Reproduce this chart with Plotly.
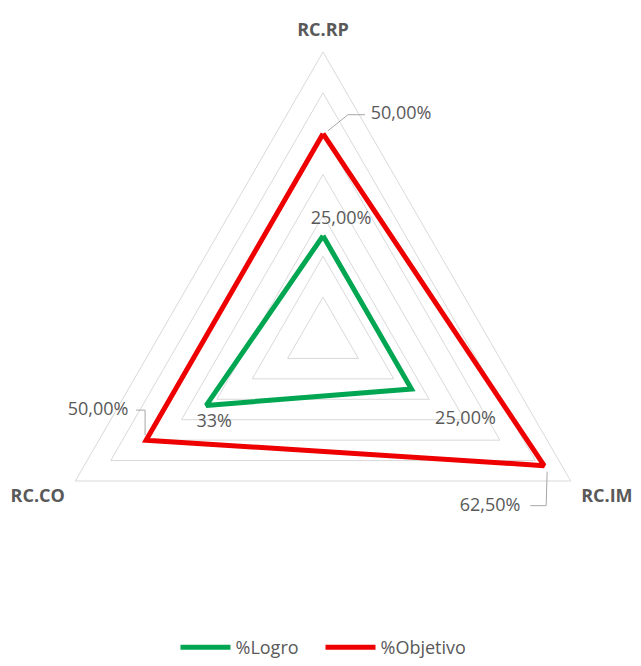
import math
import plotly.graph_objects as go

# Radar categories and series (fractions)
categories = ["RC.RP", "RC.IM", "RC.CO"]
category_angles = [0, 120, 240]  # clockwise from top
logro = [0.25, 0.25, 0.33]
objetivo = [0.50, 0.625, 0.50]
logro_decimals = [2, 2, 0]
objetivo_decimals = [2, 2, 2]

R_MAX = 0.7
R_PX = 286.0          # pixel radius of the polar area
UNIT = R_MAX / R_PX   # radial units per pixel

GREEN = "#00a651"
RED = "#ee0000"
TEXT = "#595959"
GRID = "#d9d9d9"
FONT = "Open Sans"

# Label placement (pixel offsets from each point: right, up) and leader paths
logro_label_off = [(18, 16), (54, -30), (8, -17)]
objetivo_label_off = [(78, 19), (-54, -41), (-48, 30)]
objetivo_leaders = [
    [(5, 3), (25, 19), (42, 19)],
    [(3, -6), (2, -40), (-14, -40)],
    [(-1, 5), (-1, 30), (-10, 30)],
]


def fmt(v, d):
    return f"{v * 100:.{d}f}%".replace(".", ",")


def shifted(r, ang, dx, dy):
    """Polar position of a point moved by (dx, dy) pixels from (r, ang)."""
    a = math.radians(ang)
    x = r * math.sin(a) + dx * UNIT
    y = r * math.cos(a) + dy * UNIT
    return math.hypot(x, y), math.degrees(math.atan2(x, y)) % 360


fig = go.Figure()

for name, vals, color in [("%Logro", logro, GREEN), ("%Objetivo", objetivo, RED)]:
    fig.add_trace(go.Scatterpolar(
        r=vals + vals[:1], theta=categories + categories[:1],
        mode="lines", name=name,
        line=dict(color=color, width=5),
        subplot="polar",
    ))

# Data labels
for vals, decs, offs in [(logro, logro_decimals, logro_label_off),
                         (objetivo, objetivo_decimals, objetivo_label_off)]:
    rr, tt, txt = [], [], []
    for v, ang, d, (dx, dy) in zip(vals, category_angles, decs, offs):
        r2, t2 = shifted(v, ang, dx, dy)
        rr.append(r2)
        tt.append(t2)
        txt.append(fmt(v, d))
    fig.add_trace(go.Scatterpolar(
        r=rr, theta=tt, mode="text", text=txt,
        textposition="middle center",
        textfont=dict(family=FONT, size=18, color=TEXT),
        showlegend=False, hoverinfo="skip", subplot="polar2",
    ))

# Leader lines for the objective labels
for v, ang, path in zip(objetivo, category_angles, objetivo_leaders):
    pts = [shifted(v, ang, dx, dy) for dx, dy in path]
    fig.add_trace(go.Scatterpolar(
        r=[p[0] for p in pts], theta=[p[1] for p in pts], mode="lines",
        line=dict(color="#a6a6a6", width=1),
        showlegend=False, hoverinfo="skip", subplot="polar2",
    ))

W, H = 641, 666
cx, cy = 323, 338
dom_x = [(cx - R_PX) / W, (cx + R_PX) / W]
dom_y = [(H - cy - R_PX) / H, (H - cy + R_PX) / H]

fig.update_layout(
    width=W, height=H,
    margin=dict(l=0, r=0, t=0, b=0, autoexpand=False),
    paper_bgcolor="white",
    font=dict(family=FONT, size=18, color=TEXT),
    polar=dict(
        domain=dict(x=dom_x, y=dom_y),
        gridshape="linear",
        bgcolor="white",
        radialaxis=dict(range=[0, R_MAX], dtick=0.1, showticklabels=False,
                        ticks="", showline=False, gridcolor=GRID, gridwidth=1),
        angularaxis=dict(rotation=90, direction="clockwise", showgrid=False,
                         ticks="outside", ticklen=8, tickcolor="rgba(0,0,0,0)",
                         showline=True, linecolor=GRID, linewidth=1,
                         tickfont=dict(family=FONT, size=18, color=TEXT, weight="bold")),
    ),
    polar2=dict(
        domain=dict(x=dom_x, y=dom_y),
        bgcolor="rgba(0,0,0,0)",
        radialaxis=dict(range=[0, R_MAX], visible=False),
        angularaxis=dict(rotation=90, direction="clockwise", visible=False),
    ),
    legend=dict(orientation="h", x=0.5, xanchor="center", y=0,
                yanchor="bottom", entrywidth=80, itemwidth=50,
                font=dict(family=FONT, size=18, color=TEXT)),
    showlegend=True,
)

fig.write_html("out.html")
